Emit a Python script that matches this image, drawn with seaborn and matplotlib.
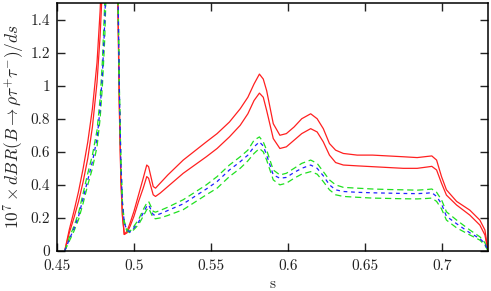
import pandas as pd
import seaborn as sns
import matplotlib
matplotlib.use("Agg")
import matplotlib.pyplot as plt

# s grid shared by all curves
s = [0.455, 0.458, 0.461, 0.464, 0.467, 0.470, 0.473, 0.476, 0.478, 0.4795,
     0.481, 0.482, 0.4845, 0.487, 0.4895, 0.4905, 0.4915, 0.4925, 0.4937, 0.4955,
     0.4975, 0.500, 0.503, 0.506, 0.5083, 0.5095, 0.511, 0.5125, 0.514, 0.517,
     0.522, 0.532, 0.547, 0.554, 0.562, 0.569, 0.574, 0.578, 0.5815, 0.584,
     0.5862, 0.5905, 0.5948, 0.599, 0.604, 0.609, 0.6148, 0.619, 0.623, 0.627,
     0.631, 0.636, 0.645, 0.655, 0.665, 0.675, 0.684, 0.6905, 0.6935, 0.6966,
     0.6998, 0.703, 0.7096, 0.7182, 0.7247, 0.728, 0.730]

# red band (upper / lower)
red_upper = [0, 0.13, 0.24, 0.36, 0.50, 0.66, 0.86, 1.14, 1.45, 1.8,
             2.2, 2.6, 4.0, 3.2, 1.6, 0.9, 0.45, 0.22, 0.10, 0.12,
             0.17, 0.24, 0.34, 0.44, 0.52, 0.51, 0.45, 0.39, 0.38, 0.41,
             0.46, 0.55, 0.66, 0.71, 0.78, 0.86, 0.93, 1.01, 1.07, 1.04,
             0.97, 0.77, 0.70, 0.71, 0.75, 0.80, 0.83, 0.80, 0.74, 0.65,
             0.61, 0.59, 0.58, 0.58, 0.575, 0.57, 0.565, 0.572, 0.575, 0.55,
             0.45, 0.37, 0.30, 0.247, 0.187, 0.127, 0]
red_lower = [0, 0.11, 0.20, 0.30, 0.42, 0.56, 0.75, 1.02, 1.30, 1.6,
             2.0, 2.4, 3.8, 3.0, 1.5, 0.85, 0.42, 0.21, 0.10, 0.11,
             0.15, 0.21, 0.30, 0.38, 0.45, 0.44, 0.39, 0.34, 0.33, 0.35,
             0.39, 0.47, 0.57, 0.62, 0.69, 0.76, 0.83, 0.91, 0.955, 0.93,
             0.85, 0.68, 0.62, 0.63, 0.67, 0.71, 0.74, 0.72, 0.66, 0.58,
             0.535, 0.52, 0.515, 0.51, 0.505, 0.50, 0.50, 0.508, 0.512, 0.49,
             0.41, 0.338, 0.278, 0.217, 0.157, 0.097, 0]

# green band (upper / lower) and blue central curve
green_upper = [0, 0.08, 0.15, 0.23, 0.35, 0.47, 0.58, 0.73, 0.92, 1.15,
               1.5, 1.8, 3.5, 2.8, 1.7, 1.0, 0.55, 0.30, 0.18, 0.13,
               0.12, 0.15, 0.19, 0.25, 0.29, 0.30, 0.27, 0.24, 0.235, 0.245,
               0.265, 0.31, 0.40, 0.45, 0.52, 0.57, 0.61, 0.67, 0.69, 0.66,
               0.61, 0.49, 0.46, 0.47, 0.50, 0.53, 0.55, 0.53, 0.48, 0.43,
               0.40, 0.385, 0.38, 0.375, 0.372, 0.37, 0.368, 0.372, 0.375, 0.355,
               0.31, 0.237, 0.187, 0.127, 0.086, 0.05, 0]
blue_central = [0, 0.07, 0.135, 0.21, 0.32, 0.43, 0.54, 0.68, 0.86, 1.07,
                1.38, 1.7, 3.4, 2.7, 1.65, 0.98, 0.53, 0.29, 0.17, 0.125,
                0.115, 0.14, 0.175, 0.23, 0.27, 0.28, 0.25, 0.22, 0.215, 0.225,
                0.245, 0.285, 0.375, 0.42, 0.49, 0.54, 0.58, 0.63, 0.66, 0.635,
                0.58, 0.46, 0.44, 0.445, 0.475, 0.50, 0.52, 0.50, 0.455, 0.40,
                0.37, 0.36, 0.355, 0.352, 0.35, 0.348, 0.347, 0.35, 0.353, 0.33,
                0.285, 0.21, 0.165, 0.11, 0.075, 0.045, 0]
green_lower = [0, 0.06, 0.12, 0.19, 0.29, 0.40, 0.50, 0.63, 0.80, 1.00,
               1.28, 1.6, 3.3, 2.6, 1.6, 0.95, 0.51, 0.28, 0.16, 0.12,
               0.11, 0.13, 0.16, 0.21, 0.25, 0.26, 0.23, 0.20, 0.195, 0.20,
               0.215, 0.25, 0.34, 0.38, 0.45, 0.50, 0.545, 0.59, 0.62, 0.60,
               0.55, 0.43, 0.40, 0.41, 0.44, 0.465, 0.48, 0.465, 0.42, 0.37,
               0.34, 0.33, 0.325, 0.32, 0.318, 0.316, 0.315, 0.318, 0.32, 0.30,
               0.255, 0.187, 0.14, 0.097, 0.066, 0.035, 0]

x_ticks = [0.45, 0.5, 0.55, 0.6, 0.65, 0.7]
x_ticklabels = ["0.45", "0.5", "0.55", "0.6", "0.65", "0.7"]
y_ticks = [0, 0.2, 0.4, 0.6, 0.8, 1.0, 1.2, 1.4]
y_ticklabels = ["0", "0.2", "0.4", "0.6", "0.8", "1", "1.2", "1.4"]

sns.set_style("ticks")
plt.rcParams["font.family"] = ["cmr10", "DejaVu Serif"]
plt.rcParams["mathtext.fontset"] = "cm"
plt.rcParams["axes.unicode_minus"] = False

fig = plt.figure(figsize=(4.91, 2.91), dpi=100)
ax = fig.add_axes([57 / 491, 40 / 291, 431 / 491, 248 / 291])

df = pd.DataFrame({"s": s})
# red solid band
sns.lineplot(x=df["s"], y=red_upper, color="#ff2020", lw=0.9, ax=ax, sort=False, estimator=None)
sns.lineplot(x=df["s"], y=red_lower, color="#ff2020", lw=0.9, ax=ax, sort=False, estimator=None)
# green dashed band
sns.lineplot(x=df["s"], y=green_upper, color="#20e020", lw=0.9, ax=ax, sort=False,
             estimator=None).lines[-1].set_dashes([5, 3])
sns.lineplot(x=df["s"], y=green_lower, color="#20e020", lw=0.9, ax=ax, sort=False,
             estimator=None).lines[-1].set_dashes([5, 3])
# blue dashed central
sns.lineplot(x=df["s"], y=blue_central, color="#2020ff", lw=0.9, ax=ax, sort=False,
             estimator=None).lines[-1].set_dashes([3, 3])

ax.set_xlim(0.45, 0.73)
ax.set_ylim(0, 1.5)
ax.set_xticks(x_ticks)
ax.set_xticklabels(x_ticklabels)
ax.set_yticks(y_ticks)
ax.set_yticklabels(y_ticklabels)
ax.tick_params(direction="in", length=6, width=1, top=True, right=True,
               labelsize=11, colors="#222222")
ax.tick_params(axis="x", pad=6)
ax.tick_params(axis="y", pad=5)
for sp in ax.spines.values():
    sp.set_linewidth(1.1)
    sp.set_color("black")

ax.set_xlabel("s", fontsize=11, labelpad=3)
ax.set_ylabel(r"$10^7 \times dBR(B \to \rho\tau^{+}\tau^{-})/ds$", fontsize=12.5, labelpad=3)

fig.savefig("out.png", dpi=100)
plt.close(fig)
